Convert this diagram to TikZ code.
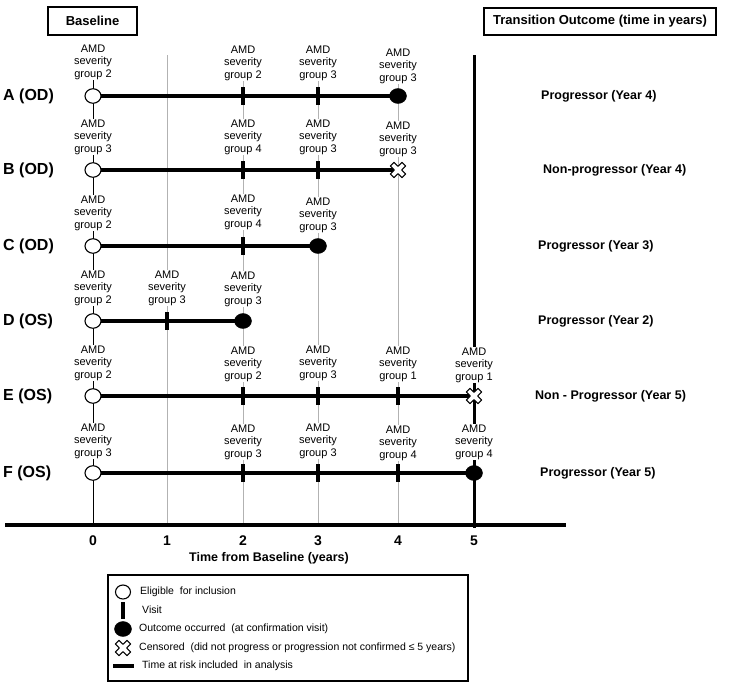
\documentclass[tikz,border=0pt]{standalone}
\usepackage{fontspec}
\setmainfont{Liberation Sans}
\usetikzlibrary{shapes.geometric,backgrounds}
\begin{document}
\begin{tikzpicture}[x=1pt,y=-1pt,
  sev/.style={font=\fontsize{11}{12.6}\selectfont, align=center, fill=white, inner sep=0.8pt},
  rowlab/.style={font=\fontsize{16}{19}\selectfont\bfseries, anchor=west, inner sep=0pt},
  outlab/.style={font=\fontsize{12.5}{15}\selectfont\bfseries, anchor=west, inner sep=0pt},
  axlab/.style={font=\fontsize{14}{16}\selectfont\bfseries, inner sep=0pt},
  headbox/.style={draw, line width=1.1pt, font=\fontsize{13}{15}\selectfont\bfseries, inner sep=0pt},
  legtext/.style={font=\fontsize{10.5}{12}\selectfont, anchor=west, inner sep=0pt},
  openmark/.style={ellipse, draw, line width=1.1pt, fill=white, minimum width=16pt, minimum height=14.5pt, inner sep=0pt},
  fullmark/.style={ellipse, draw, fill=black, minimum width=17pt, minimum height=15pt, inner sep=0pt},
  visitmark/.style={rectangle, fill=black, minimum width=3.6pt, minimum height=18pt, inner sep=0pt},
  censmark/.style={minimum size=15pt, inner sep=0pt},
  riskline/.style={line width=3.4pt},
  gridline/.style={line width=0.7pt, black!30},
  censor/.pic={\draw[line width=1.1pt, fill=white, line join=round, rotate=45]
    (2.6,8.2)--(2.6,2.6)--(8.2,2.6)--(8.2,-2.6)--(2.6,-2.6)--(2.6,-8.2)--(-2.6,-8.2)--(-2.6,-2.6)
    --(-8.2,-2.6)--(-8.2,2.6)--(-2.6,2.6)--(-2.6,8.2)--cycle;}
]
\useasboundingbox (0,0) rectangle (729,689);

% headers
\node[headbox, minimum width=89pt, minimum height=28pt] (base) at (92.5,21) {Baseline};
\node[headbox, minimum width=232pt, minimum height=27pt] (trans) at (600,21.5) {Transition Outcome (time in years)};

% grid coordinates
\coordinate (g0t) at (93,80);   \coordinate (g0b) at (93,525);
\coordinate (g1t) at (167,55);  \coordinate (g1b) at (167,525);
\coordinate (g2t) at (243,80);  \coordinate (g2b) at (243,525);
\coordinate (g3t) at (318,80);  \coordinate (g3b) at (318,525);
\coordinate (g4t) at (398,80);  \coordinate (g4b) at (398,525);
\coordinate (g5t) at (474,55);  \coordinate (g5b) at (474,528);
\coordinate (axl) at (5,525);   \coordinate (axr) at (566,525);

% Row A
\node[openmark] (A0) at (93,96) {};
\node[visitmark] (A2) at (243,96) {};
\node[visitmark] (A3) at (318,96) {};
\node[fullmark] (A4) at (398,96) {};
\node[sev] (LA0) at (93,62) {AMD\\severity\\group 2};
\node[sev] (LA2) at (243,63) {AMD\\severity\\group 2};
\node[sev] (LA3) at (318,63) {AMD\\severity\\group 3};
\node[sev] (LA4) at (398,66) {AMD\\severity\\group 3};
\node[rowlab] (RA) at (3,96) {A (OD)};
\node[outlab] (OA) at (541,96) {Progressor (Year 4)};

% Row B
\node[openmark] (B0) at (93,170) {};
\node[visitmark] (B2) at (243,170) {};
\node[visitmark] (B3) at (318,170) {};
\node[censmark] (B4) at (398,170) {};
\node[sev] (LB0) at (93,137) {AMD\\severity\\group 3};
\node[sev] (LB2) at (243,137) {AMD\\severity\\group 4};
\node[sev] (LB3) at (318,137) {AMD\\severity\\group 3};
\node[sev] (LB4) at (398,139) {AMD\\severity\\group 3};
\node[rowlab] (RB) at (3,170) {B (OD)};
\node[outlab] (OB) at (543,170) {Non-progressor (Year 4)};

% Row C
\node[openmark] (C0) at (93,246) {};
\node[visitmark] (C2) at (243,246) {};
\node[fullmark] (C3) at (318,246) {};
\node[sev] (LC0) at (93,213) {AMD\\severity\\group 2};
\node[sev] (LC2) at (243,212) {AMD\\severity\\group 4};
\node[sev] (LC3) at (318,215) {AMD\\severity\\group 3};
\node[rowlab] (RC) at (3,246) {C (OD)};
\node[outlab] (OC) at (538,246) {Progressor (Year 3)};

% Row D
\node[openmark] (D0) at (93,321) {};
\node[visitmark] (D1) at (167,321) {};
\node[fullmark] (D2) at (243,321) {};
\node[sev] (LD0) at (93,288) {AMD\\severity\\group 2};
\node[sev] (LD1) at (167,288) {AMD\\severity\\group 3};
\node[sev] (LD2) at (243,289) {AMD\\severity\\group 3};
\node[rowlab] (RD) at (3,321) {D (OS)};
\node[outlab] (OD) at (538,321) {Progressor (Year 2)};

% Row E
\node[openmark] (E0) at (93,396) {};
\node[visitmark] (E2) at (243,396) {};
\node[visitmark] (E3) at (318,396) {};
\node[visitmark] (E4) at (398,396) {};
\node[censmark] (E5) at (474,396) {};
\node[sev] (LE0) at (93,363) {AMD\\severity\\group 2};
\node[sev] (LE2) at (243,364) {AMD\\severity\\group 2};
\node[sev] (LE3) at (318,363) {AMD\\severity\\group 3};
\node[sev] (LE4) at (398,364) {AMD\\severity\\group 1};
\node[sev] (LE5) at (474,365) {AMD\\severity\\group 1};
\node[rowlab] (RE) at (3,396) {E (OS)};
\node[outlab] (OE) at (535,396) {Non - Progressor (Year 5)};

% Row F
\node[openmark] (F0) at (93,473) {};
\node[visitmark] (F2) at (243,473) {};
\node[visitmark] (F3) at (318,473) {};
\node[visitmark] (F4) at (398,473) {};
\node[fullmark] (F5) at (474,473) {};
\node[sev] (LF0) at (93,441) {AMD\\severity\\group 3};
\node[sev] (LF2) at (243,442) {AMD\\severity\\group 3};
\node[sev] (LF3) at (318,441) {AMD\\severity\\group 3};
\node[sev] (LF4) at (398,443) {AMD\\severity\\group 4};
\node[sev] (LF5) at (474,442) {AMD\\severity\\group 4};
\node[rowlab] (RF) at (3,473) {F (OS)};
\node[outlab] (OF) at (540,473) {Progressor (Year 5)};

% censor marks
\pic at (B4) {censor};
\pic at (E5) {censor};

% axis
\draw[line width=3.2pt] (axl) -- (axr);
\node[axlab] (n0) at (93,541) {0};
\node[axlab] (n1) at (167,541) {1};
\node[axlab] (n2) at (243,541) {2};
\node[axlab] (n3) at (318,541) {3};
\node[axlab] (n4) at (398,541) {4};
\node[axlab] (n5) at (474,541) {5};
\node[font=\fontsize{12.5}{15}\selectfont\bfseries, inner sep=0pt] (axt) at (269,558) {Time from Baseline (years)};

% legend
\draw[line width=1.1pt] (108,575) rectangle (468,681);
\node[openmark, minimum width=15pt, minimum height=14pt] (k1) at (123,592) {};
\node[legtext] (t1) at (140,592) {Eligible~ for inclusion};
\node[visitmark, minimum height=17pt] (k2) at (123,610) {};
\node[legtext] (t2) at (142,610) {Visit};
\node[fullmark] (k3) at (123,629) {};
\node[legtext] (t3) at (139,629) {Outcome occurred~ (at confirmation visit)};
\node[censmark] (k4) at (123,648) {};
\pic at (k4) {censor};
\node[legtext] (t4) at (139,648) {Censored~ (did not progress or progression not confirmed ≤ 5 years)};
\coordinate (k5a) at (113,666);
\coordinate (k5b) at (134,666);
\draw[riskline] (k5a) -- (k5b);
\node[legtext] (t5) at (142,666) {Time at risk included~ in analysis};

% background: grid lines and risk lines
\begin{scope}[on background layer]
  \fill[white] (0,0) rectangle (729,689);
  \draw[line width=0.9pt, black] (g0t) -- (g0b);
  \draw[gridline] (g1t) -- (g1b);
  \draw[gridline] (g2t) -- (g2b);
  \draw[gridline] (g3t) -- (g3b);
  \draw[gridline] (g4t) -- (g4b);
  \draw[line width=3pt, black] (g5t) -- (g5b);
  \draw[riskline] (A0.center) -- (A4.center);
  \draw[riskline] (B0.center) -- (B4.center);
  \draw[riskline] (C0.center) -- (C3.center);
  \draw[riskline] (D0.center) -- (D2.center);
  \draw[riskline] (E0.center) -- (E5.center);
  \draw[riskline] (F0.center) -- (F5.center);
\end{scope}
\end{tikzpicture}
\end{document}
